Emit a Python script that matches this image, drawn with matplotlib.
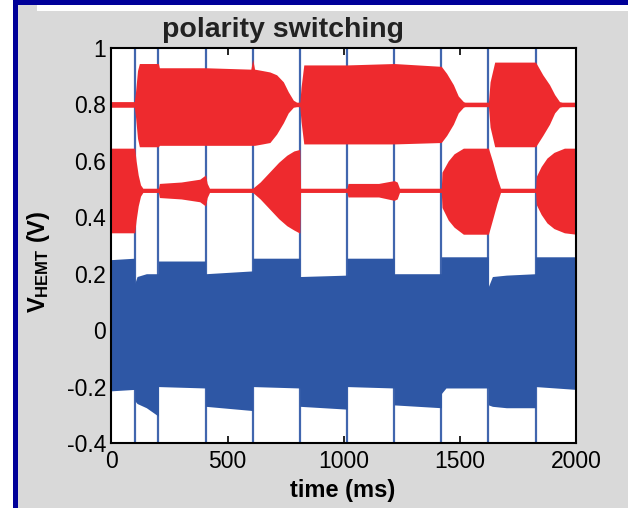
#!/usr/bin/env python3
"""
Polarity switching trace: V_HEMT vs time, red/blue envelopes with switching markers.
"""
import matplotlib
matplotlib.use('Agg')
import matplotlib.pyplot as plt
from matplotlib.patches import Rectangle

plt.rcParams['font.family'] = ['Liberation Sans', 'DejaVu Sans']
plt.rcParams['mathtext.fontset'] = 'custom'
plt.rcParams['mathtext.rm'] = 'Liberation Sans'
plt.rcParams['mathtext.bf'] = 'Liberation Sans:bold'

# switching instants (ms)
switch_t = [100, 202, 405, 608, 811, 1014, 1217, 1420, 1623, 1826]

# blue trace envelope (top / bottom edge)
blue_t = [0, 100, 100, 110, 150, 202, 202, 405, 405, 608, 608, 811, 811, 1014, 1014,
          1217, 1217, 1420, 1420, 1440, 1623, 1623, 1640, 1700, 1826, 1826, 2000]
blue_top = [0.25, 0.255, 0.165, 0.19, 0.2, 0.2, 0.245, 0.245, 0.2, 0.21, 0.255, 0.255,
            0.19, 0.195, 0.255, 0.255, 0.2, 0.2, 0.26, 0.26, 0.26, 0.155, 0.19, 0.195,
            0.2, 0.26, 0.26]
blue_bot = [-0.215, -0.21, -0.25, -0.26, -0.275, -0.305, -0.2, -0.205, -0.27, -0.285,
            -0.2, -0.205, -0.27, -0.28, -0.2, -0.205, -0.265, -0.275, -0.225, -0.205,
            -0.205, -0.265, -0.27, -0.275, -0.275, -0.2, -0.21]

# red trace, upper branch (around 0.8)
hi_t = [0, 98, 103, 112, 120, 202, 206, 405, 600, 608, 616, 650, 682, 711, 740, 761,
        783, 797, 811, 816, 828, 1014, 1217, 1420, 1443, 1472, 1493, 1515, 1522, 1623,
        1630, 1650, 1826, 1857, 1886, 1908, 1929, 1940, 2000]
hi_top = [0.81, 0.81, 0.84, 0.92, 0.945, 0.945, 0.93, 0.93, 0.925, 0.96, 0.925, 0.92,
          0.915, 0.905, 0.88, 0.845, 0.815, 0.808, 0.808, 0.86, 0.94, 0.94, 0.945, 0.935,
          0.91, 0.87, 0.83, 0.81, 0.808, 0.808, 0.88, 0.95, 0.95, 0.905, 0.87, 0.835,
          0.81, 0.808, 0.808]
hi_bot = [0.79, 0.79, 0.76, 0.68, 0.65, 0.65, 0.655, 0.655, 0.655, 0.655, 0.655, 0.66,
          0.665, 0.695, 0.735, 0.77, 0.79, 0.792, 0.792, 0.74, 0.66, 0.66, 0.66, 0.665,
          0.69, 0.73, 0.77, 0.79, 0.792, 0.792, 0.72, 0.65, 0.65, 0.69, 0.73, 0.77,
          0.79, 0.792, 0.792]

# red trace, lower branch (around 0.5)
lo_t = [0, 100, 106, 115, 125, 135, 202, 206, 300, 380, 405, 412, 422, 608, 640, 680,
        720, 755, 785, 808, 811, 814, 1014, 1018, 1150, 1217, 1230, 1240, 1420, 1423,
        1450, 1475, 1515, 1623, 1640, 1660, 1675, 1826, 1829, 1850, 1875, 1905, 1950, 2000]
lo_top = [0.645, 0.645, 0.6, 0.55, 0.515, 0.503, 0.503, 0.52, 0.525, 0.535, 0.55, 0.52,
          0.503, 0.503, 0.525, 0.56, 0.595, 0.62, 0.635, 0.64, 0.64, 0.503, 0.503, 0.52,
          0.52, 0.53, 0.525, 0.503, 0.503, 0.56, 0.6, 0.625, 0.645, 0.645, 0.6, 0.54,
          0.503, 0.503, 0.545, 0.58, 0.61, 0.63, 0.645, 0.645]
lo_bot = [0.345, 0.345, 0.39, 0.44, 0.475, 0.488, 0.488, 0.47, 0.465, 0.455, 0.44, 0.47,
          0.488, 0.488, 0.465, 0.43, 0.395, 0.37, 0.355, 0.345, 0.345, 0.488, 0.488, 0.472,
          0.472, 0.46, 0.465, 0.488, 0.488, 0.435, 0.39, 0.365, 0.34, 0.34, 0.39, 0.45,
          0.488, 0.488, 0.445, 0.41, 0.38, 0.36, 0.345, 0.34]

RED = '#ee2a2e'
BLUE = '#2e57a5'
LINE = '#4166ae'

fig = plt.figure(figsize=(6.28, 5.08), dpi=100)
fig.patch.set_facecolor('#d9d9d9')
W, H = 628, 508
# frame decorations (slide border)
fig.patches.append(Rectangle((0, 0), 13 / W, 1, transform=fig.transFigure,
                             facecolor='white', edgecolor='none', zorder=0))
fig.patches.append(Rectangle((13 / W, 0), 5 / W, 1, transform=fig.transFigure,
                             facecolor='#000099', edgecolor='none', zorder=0))
fig.patches.append(Rectangle((13 / W, 1 - 4.5 / H), 1, 4.5 / H, transform=fig.transFigure,
                             facecolor='#000099', edgecolor='none', zorder=0))
fig.patches.append(Rectangle((37 / W, 1 - 11 / H), 1, 6.5 / H, transform=fig.transFigure,
                             facecolor='white', edgecolor='none', zorder=0))

ax = fig.add_axes([111.5 / W, 1 - 443 / H, (576 - 111.5) / W, (443 - 48) / H])
ax.set_facecolor('white')

# switching markers (under the traces)
for t in switch_t:
    ax.axvline(t, color=LINE, lw=1.6, zorder=1)

# blue trace
ax.fill_between(blue_t, blue_bot, blue_top, color=BLUE, lw=0, zorder=2)

# red trace
ax.fill_between(hi_t, hi_bot, hi_top, color=RED, lw=0, zorder=3)
ax.fill_between(lo_t, lo_bot, lo_top, color=RED, lw=0, zorder=3)

ax.set_xlim(0, 2000)
ax.set_ylim(-0.4, 1.0)
ax.set_xticks([0, 500, 1000, 1500, 2000])
ax.set_yticks([-0.4, -0.2, 0, 0.2, 0.4, 0.6, 0.8, 1.0])
ax.set_yticklabels(['-0.4', '-0.2', '0', '0.2', '0.4', '0.6', '0.8', '1'])
ax.tick_params(direction='in', length=5, width=1.2, top=True, right=True,
               labelsize=16.5, colors='black', zorder=5)
ax.tick_params(axis='y', pad=4)
ax.tick_params(axis='x', pad=5)
for s in ax.spines.values():
    s.set_linewidth(1.5)
    s.set_zorder(6)

fig.text(283 / W, 1 - 37 / H, 'polarity switching', ha='center', va='baseline',
         fontsize=20.5, fontweight='bold', color='#222222')
fig.text(343 / W, 1 - 497 / H, 'time (ms)', ha='center', va='baseline',
         fontsize=17, fontweight='bold')
fig.text(38 / W, 1 - 262 / H, r'$\mathbf{V_{HEMT}}$ (V)', ha='center', va='center',
         rotation=90, fontsize=17, fontweight='bold')

fig.savefig('out.png', dpi=100, facecolor=fig.get_facecolor())
